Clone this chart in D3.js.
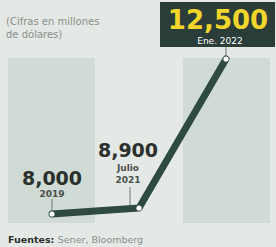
<!DOCTYPE html>
<html lang="es">
<head>
<meta charset="UTF-8">
<title>Cifras en millones de dólares</title>
<script src="https://d3js.org/d3.v7.min.js"></script>
<style>
  body { margin: 0; background: #e4e9e6; }
  svg text { font-family: 'DejaVu Sans', sans-serif; }
</style>
</head>
<body>
<svg id="chart" width="276" height="247"></svg>
<script>
// data
var periods = ['2019', 'Julio 2021', 'Ene. 2022'];
var values = [8000, 8900, 12500];
var valueLabels = ['8,000', '8,900', '12,500'];
var dateLines = [['2019'], ['Julio', '2021'], ['Ene. 2022']];

var svg = d3.select('#chart');

// bands behind first and last points
svg.append('rect').attr('x', 8).attr('y', 58).attr('width', 87).attr('height', 165).attr('fill', '#cfdbd4');
svg.append('rect').attr('x', 183).attr('y', 58).attr('width', 87).attr('height', 165).attr('fill', '#cfdbd4');

// infographic is not to scale, so a piecewise scale
var x = d3.scalePoint().domain(periods).range([52, 226]);
var y = d3.scaleLinear().domain([8000, 8900, 12500]).range([214, 208, 59]);

var pts = periods.map(function (p, i) { return {p: p, v: values[i], label: valueLabels[i], date: dateLines[i]}; });

// leader lines
svg.append('line').attr('x1', x(periods[0])).attr('x2', x(periods[0]))
  .attr('y1', 199).attr('y2', y(values[0])).attr('stroke', '#6b7d75').attr('stroke-width', 1);
svg.append('line').attr('x1', x(periods[1]) - 9).attr('x2', x(periods[1]) - 9)
  .attr('y1', 187).attr('y2', y(values[1]) - 2).attr('stroke', '#6b7d75').attr('stroke-width', 1);
svg.append('line').attr('x1', x(periods[2])).attr('x2', x(periods[2]))
  .attr('y1', 46).attr('y2', y(values[2])).attr('stroke', '#6b7d75').attr('stroke-width', 1);

var line = d3.line().x(function (d) { return x(d.p); }).y(function (d) { return y(d.v); });
svg.append('path').datum(pts).attr('d', line)
  .attr('fill', 'none').attr('stroke', '#2f4a40').attr('stroke-width', 7)
  .attr('stroke-linejoin', 'round').attr('stroke-linecap', 'round');

svg.selectAll('circle.pt').data(pts).enter().append('circle')
  .attr('class', 'pt')
  .attr('cx', function (d) { return x(d.p); })
  .attr('cy', function (d) { return y(d.v); })
  .attr('r', 2.6).attr('fill', '#ffffff');

// labels for first two points
svg.append('text').attr('x', x(periods[0])).attr('y', 185).attr('text-anchor', 'middle')
  .attr('font-size', 19).attr('font-weight', 'bold').attr('fill', '#2b2f2d').text(valueLabels[0]);
svg.append('text').attr('x', x(periods[0])).attr('y', 197).attr('text-anchor', 'middle')
  .attr('font-size', 9).attr('font-weight', 'bold').attr('fill', '#4a4f4c').text(dateLines[0][0]);

svg.append('text').attr('x', x(periods[1]) - 11).attr('y', 157).attr('text-anchor', 'middle')
  .attr('font-size', 19).attr('font-weight', 'bold').attr('fill', '#2b2f2d').text(valueLabels[1]);
dateLines[1].forEach(function (t, i) {
  svg.append('text').attr('x', x(periods[1]) - 11).attr('y', 171 + i * 12).attr('text-anchor', 'middle')
    .attr('font-size', 9).attr('font-weight', 'bold').attr('fill', '#4a4f4c').text(t);
});

// highlighted box for last point
svg.append('rect').attr('x', 160).attr('y', 2).attr('width', 115).attr('height', 45).attr('fill', '#2a3d39');
svg.append('text').attr('x', 218).attr('y', 29).attr('text-anchor', 'middle')
  .attr('font-size', 26).attr('font-weight', 'bold').attr('fill', '#f3d62b').text(valueLabels[2]);
svg.append('text').attr('x', 220).attr('y', 44).attr('text-anchor', 'middle')
  .attr('font-size', 9).attr('fill', '#ffffff').text(dateLines[2][0]);

// note and source
svg.append('text').attr('x', 6).attr('y', 25).attr('font-size', 10).attr('fill', '#8a8f8c').text('(Cifras en millones');
svg.append('text').attr('x', 6).attr('y', 38).attr('font-size', 10).attr('fill', '#8a8f8c').text('de dólares)');

var src = svg.append('text').attr('x', 8).attr('y', 243).attr('font-size', 9.5);
src.append('tspan').attr('font-weight', 'bold').attr('fill', '#2b2f2d').text('Fuentes: ');
src.append('tspan').attr('fill', '#8a8f8c').text('Sener, Bloomberg');
</script>
</body>
</html>
